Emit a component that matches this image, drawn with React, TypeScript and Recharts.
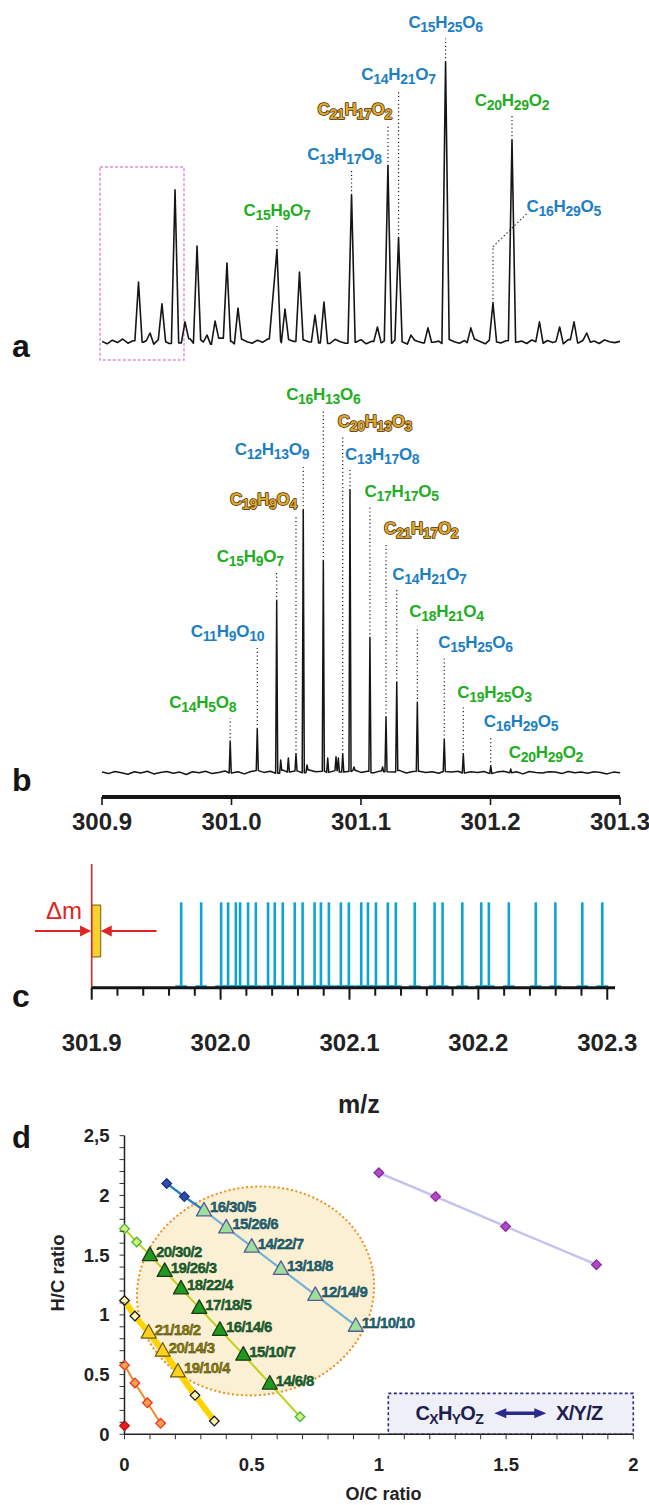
import React from 'react';
import {
  LineChart, Line, ComposedChart, Bar, ScatterChart, Scatter,
  XAxis, YAxis, ReferenceLine, ReferenceArea,
} from 'recharts';

const FONT = '"Liberation Sans", Arial, Helvetica, sans-serif';
const INK = '#151515';

// formula colours: b = blue, g = green, o = gold with dark outline
const KIND: Record<string, { fill: string; stroke?: string }> = {
  b: { fill: '#1d7fc2' },
  g: { fill: '#22ad22' },
  o: { fill: '#e3a72b', stroke: '#3a2800' },
};

// ---------- a: low resolution trace ----------
const aStart = 300.9;
const aStep = 0.004;
const aNoise = [
  1.2, 0.4, 1.6, 0.8, 2.0, 0.6, 1.4, 2.2, 0.9, 1.5, 0.3, 1.8, 1.1, 0.5, 1.9, 0.7, 1.3, 2.1, 0.6, 1.7,
  1.0, 0.2, 1.5, 2.3, 0.8, 1.2, 0.4, 1.9, 1.1, 0.6, 1.6, 0.9, 2.0, 0.5, 1.4, 0.8, 1.8, 1.2, 0.3, 1.7,
  1.0, 2.2, 0.7, 1.3, 0.5, 1.9, 1.1, 0.6, 1.5, 0.9, 1.8, 0.4, 1.2, 2.0, 0.8, 1.4, 0.6, 1.7, 1.0, 0.3,
  1.6, 1.2, 0.7, 2.1, 0.9, 1.3, 0.5, 1.8, 1.1, 0.6, 1.5, 0.8, 1.9, 1.2, 0.4, 1.6, 1.0, 0.7, 1.4, 2.0,
  0.9, 1.3, 0.5, 1.7, 1.1, 0.6, 1.5, 0.8, 1.2, 0.4, 1.8, 1.0, 0.7, 1.6, 0.9, 1.3, 0.5, 1.7, 1.1, 0.8, 1.2,
];
const aPeakMz = [
  300.9282, 300.9371, 300.9463, 300.9564, 300.9641, 300.9734, 300.9811, 300.9873, 300.9965, 301.0050,
  301.0320, 301.0351, 301.0413, 301.0525, 301.0645, 301.0714, 301.0927, 301.1127, 301.1208, 301.1290,
  301.1386, 301.1517, 301.1653, 301.1848, 301.2019, 301.2166, 301.2378, 301.2534, 301.2645, 301.2743,
];
const aPeakInt = [
  21, 4, 13.7, 51.7, 7.7, 33, 3.3, 8, 27.3, 12.3,
  16, 31.7, 12, 24.3, 10, 14.3, 50, 6, 59.7, 35.7,
  3.3, 5.7, 94.3, 5.7, 14, 68.3, 7.7, 6, 7.7, 4,
];
const aLabelFormula = ['C15H9O7', 'C13H17O8', 'C21H17O2', 'C14H21O7', 'C15H25O6', 'C20H29O2'];
const aLabelKind = ['g', 'b', 'o', 'b', 'b', 'g'];
const aLabelPeak = [11, 16, 18, 19, 22, 25];
const aLabelLevel = [39.6, 58.3, 73.3, 85, 102.2, 76.4];
const aLabelAnchor = ['middle', 'middle', 'end', 'middle', 'middle', 'middle'];
const aLabelDx = [0, -7, 4, 0, 0, 0];
// C16H29O5 is reached by a bent leader
const aBentFormula = 'C16H29O5';
const aBentPeak = 24;
const aBentKnee = 32.8;
const aBentTip = [301.2286, 44];
// pink dashed window
const aWindow = [300.8985, 300.9633, -5, 59.3];

// ---------- b: high resolution spectrum ----------
const bStart = 300.9;
const bStep = 0.005;
const bNoise = [
  0.3, -0.2, 0.5, 0.1, -0.4, 0.4, 0.0, 0.6, -0.3, 0.2, 0.5, -0.1, 0.3, -0.5, 0.4, 0.1, 0.6, -0.2, 0.2, 0.7,
  0.0, 0.4, -0.3, 0.5, 0.8, 0.2, 0.6, -0.1, 0.9, 0.3, 0.7, 0.1, 1.0, 0.4, 0.6, 0.2, 0.8, 0.3, 0.5, 0.9,
  0.2, 0.6, 0.1, 0.7, 0.4, 0.3, 0.8, 0.0, 0.5, 0.6, 0.2, 0.4, -0.1, 0.5, 0.3, 0.6, 0.0, 0.4, 0.2, 0.5,
  -0.2, 0.3, 0.6, 0.1, 0.4, -0.3, 0.5, 0.2, 0.0, 0.4, 0.3, -0.2, 0.5, 0.1, 0.3, -0.1, 0.4, 0.2, -0.3, 0.3, 0.1,
];
const bPeakMz = [
  300.9990, 301.0199, 301.0349, 301.0380, 301.0439, 301.0498, 301.0554, 301.0583, 301.0709, 301.0743,
  301.0807, 301.0825, 301.0859, 301.0915, 301.0946, 301.1069, 301.1167, 301.1193, 301.1276, 301.1435,
  301.1643, 301.1790, 301.2002, 301.2156,
];
const bPeakInt = [
  10.4, 14.7, 57.4, 4.3, 5.0, 6.3, 87.7, 2.7, 70.7, 5.0,
  5.4, 5.0, 6.3, 94.3, 2.0, 45.0, 2.0, 18.6, 30.2, 23.4,
  11.2, 6.3, 2.3, 1.2,
];
const bLabelFormula = [
  'C14H5O8', 'C11H9O10', 'C15H9O7', 'C19H9O4', 'C12H13O9', 'C16H13O6', 'C20H13O3', 'C13H17O8',
  'C17H17O5', 'C21H17O2', 'C14H21O7', 'C18H21O4', 'C15H25O6', 'C19H25O3', 'C16H29O5', 'C20H29O2',
];
const bLabelKind = ['g', 'b', 'g', 'o', 'b', 'g', 'o', 'b', 'g', 'o', 'b', 'g', 'b', 'g', 'b', 'g'];
const bLabelPeak = [0, 1, 2, 5, 6, 8, 12, 13, 15, 17, 18, 19, 20, 21, 22, 23];
const bLabelLevel = [18.2, 42.1, 67.1, 86, 102.7, 121, 112.1, 101, 88.8, 76.3, 61, 48.8, 38.2, 21.8, 11.9, 1.7];
const bLabelAnchor = [
  'end', 'end', 'end', 'end', 'end', 'middle', 'start', 'start',
  'start', 'start', 'start', 'start', 'start', 'start', 'start', 'start',
];
const bLabelDx = [6, 7, 7, 1, 6, 0, -5, -5, -5.5, -2, -4.5, -8, -6, -6, -7, -2];
const bTicks = [300.9, 301.0, 301.1, 301.2, 301.3];

// ---------- c: assigned formula list ----------
const cStickMz = [
  301.9693, 301.9848, 302.0003, 302.0057, 302.0117, 302.0150, 302.0212, 302.0272, 302.0367, 302.0419,
  302.0481, 302.0574, 302.0635, 302.0728, 302.0777, 302.0839, 302.0932, 302.0994, 302.1090, 302.1142,
  302.1204, 302.1296, 302.1358, 302.1505, 302.1659, 302.1721, 302.1874, 302.2021, 302.2080, 302.2235,
  302.2444, 302.2596, 302.2805, 302.2960,
];
const cStickInt = [
  1, 1, 1, 1, 1, 1, 1, 1, 1, 1, 1, 1, 1, 1, 1, 1, 1,
  1, 1, 1, 1, 1, 1, 1, 1, 1, 1, 1, 1, 1, 1, 1, 1, 1,
];
const cTicks = [
  301.9, 301.92, 301.94, 301.96, 301.98, 302.0, 302.02, 302.04, 302.06, 302.08, 302.1,
  302.12, 302.14, 302.16, 302.18, 302.2, 302.22, 302.24, 302.26, 302.28, 302.3,
];
const cMajor = [301.9, 302.0, 302.1, 302.2, 302.3];
const cMajorText = ['301.9', '302.0', '302.1', '302.2', '302.3'];
const dmWindow = [301.9, 301.907, 0.36, 0.968];
const dmArrowLeft = [301.856, 301.8995];
const dmArrowRight = [301.9503, 301.907];
const dmArrowLevel = 0.664;
const dmLineTop = 1.449;

// ---------- d: van Krevelen ----------
const blueOC = [0.166, 0.235, 0.3125, 0.40, 0.50, 0.615, 0.75, 0.909];
const blueHC = [2.10, 1.99, 1.875, 1.733, 1.571, 1.385, 1.167, 0.909];
const blueTag = ['', '', '16/30/5', '15/26/6', '14/22/7', '13/18/8', '12/14/9', '11/10/10'];
const greenOC = [0, 0.048, 0.10, 0.158, 0.222, 0.294, 0.375, 0.467, 0.571, 0.69];
const greenHC = [1.72, 1.61, 1.50, 1.368, 1.222, 1.059, 0.875, 0.667, 0.425, 0.147];
const greenTag = ['', '', '20/30/2', '19/26/3', '18/22/4', '17/18/5', '16/14/6', '15/10/7', '14/6/8', ''];
const yellowOC = [0, 0.041, 0.095, 0.15, 0.21, 0.277, 0.353];
const yellowHC = [1.12, 0.99, 0.852, 0.70, 0.526, 0.326, 0.111];
const yellowTag = ['', '', '21/18/2', '20/14/3', '19/10/4', '', ''];
const orangeOC = [0, 0.041, 0.09, 0.142];
const orangeHC = [0.579, 0.43, 0.264, 0.092];
const redOC = [0];
const redHC = [0.072];
const purpleOC = [1.0, 1.223, 1.498, 1.855];
const purpleHC = [2.19, 1.99, 1.74, 1.42];
const zoneOC = [0.515];
const zoneHC = [1.2];
const keyBox = [1.037, 2, 0, 0.343];
const dTicksX = [0, 0.1, 0.2, 0.3, 0.4, 0.5, 0.6, 0.7, 0.8, 0.9, 1, 1.1, 1.2, 1.3, 1.4, 1.5, 1.6, 1.7, 1.8, 1.9, 2];
const dTicksY = [
  0, 0.1, 0.2, 0.3, 0.4, 0.5, 0.6, 0.7, 0.8, 0.9, 1, 1.1, 1.2,
  1.3, 1.4, 1.5, 1.6, 1.7, 1.8, 1.9, 2, 2.1, 2.2, 2.3, 2.4, 2.5,
];
const dMajorX = [0, 0.5, 1, 1.5, 2];
const dMajorXText = ['0', '0.5', '1', '1.5', '2'];
const dMajorY = [0, 0.5, 1, 1.5, 2, 2.5];
const dMajorYText = ['0', '0.5', '1', '1.5', '2', '2,5'];

// ---------- helpers ----------
function buildTrace(noise: number[], start: number, step: number, mz: number[], val: number[], hw: number) {
  const near = (x: number, skip: number) => mz.some((m, i) => i !== skip && Math.abs(x - m) < hw);
  const baseAt = (x: number) => noise[Math.max(0, Math.min(noise.length - 1, Math.round((x - start) / step)))];
  const pts: { mz: number; v: number }[] = [];
  noise.forEach((v, i) => {
    const x = start + i * step;
    if (!near(x, -1)) pts.push({ mz: x, v });
  });
  mz.forEach((m, i) => {
    pts.push({ mz: m, v: val[i] });
    if (!near(m - hw, i)) pts.push({ mz: m - hw, v: baseAt(m - hw) });
    if (!near(m + hw, i)) pts.push({ mz: m + hw, v: baseAt(m + hw) });
  });
  return pts.sort((p, q) => p.mz - q.mz);
}

const aTrace = buildTrace(aNoise, aStart, aStep, aPeakMz, aPeakInt, 0.0028);
const bTrace = buildTrace(bNoise, bStart, bStep, bPeakMz, bPeakInt, 0.0008);
const cData = cStickMz.map((mz, i) => ({ mz, v: cStickInt[i] }));

const chain = (oc: number[], hc: number[], tag?: string[]) =>
  oc.map((x, i) => ({ x, y: hc[i], tag: tag ? tag[i] : '' }));

const blue = chain(blueOC, blueHC, blueTag);
const green = chain(greenOC, greenHC, greenTag);
const yellow = chain(yellowOC, yellowHC, yellowTag);
const orange = chain(orangeOC, orangeHC);
const red = chain(redOC, redHC);
const purple = chain(purpleOC, purpleHC);
const zone = chain(zoneOC, zoneHC);

function Formula({ x, y, text, kind, anchor = 'middle', size = 17 }: any) {
  const k = KIND[kind];
  const parts = Array.from((text as string).matchAll(/([A-Z])(\d*)/g), (m) => [m[1], m[2]]);
  const sub = 14;
  const shift = 4;
  let low = false;
  const spans: React.ReactNode[] = [];
  parts.forEach(([el, n], i) => {
    spans.push(<tspan key={'e' + i} dy={low ? -shift : 0}>{el}</tspan>);
    low = false;
    if (n) {
      spans.push(<tspan key={'n' + i} fontSize={sub} dy={shift}>{n}</tspan>);
      low = true;
    }
  });
  return (
    <text
      x={x} y={y} textAnchor={anchor} fontFamily={FONT} fontWeight="bold" fontSize={size}
      letterSpacing={-0.3} fill={k.fill} stroke={k.stroke ?? 'none'} strokeWidth={k.stroke ? 1.4 : 0}
      paintOrder="stroke" strokeLinejoin="round"
    >
      {spans}
    </text>
  );
}

const dotted = { stroke: '#222', strokeWidth: 1.2, strokeDasharray: '1.2 2.6' };

function CTick({ x, y, payload }: any) {
  const k = cMajor.findIndex((v) => Math.abs(v - payload.value) < 1e-6);
  return (
    <g>
      <line x1={x} x2={x} y1={y} y2={y + (k >= 0 ? 12 : 8)} stroke={INK} strokeWidth={2} />
      {k >= 0 && (
        <text x={x} y={y + 63} textAnchor="middle" fontFamily={FONT} fontWeight="bold" fontSize={24} fill="#222">
          {cMajorText[k]}
        </text>
      )}
    </g>
  );
}

function DTickX({ x, y, payload }: any) {
  const k = dMajorX.findIndex((v) => Math.abs(v - payload.value) < 1e-6);
  return (
    <g>
      <line x1={x} x2={x} y1={y} y2={y + 5} stroke="#333" strokeWidth={1} />
      {k >= 0 && (
        <text x={x} y={y + 37} textAnchor="middle" fontFamily={FONT} fontWeight="bold" fontSize={18.5} fill="#222">
          {dMajorXText[k]}
        </text>
      )}
    </g>
  );
}

function DTickY({ x, y, payload }: any) {
  const k = dMajorY.findIndex((v) => Math.abs(v - payload.value) < 1e-6);
  return (
    <g>
      <line x1={x} x2={x - 5} y1={y} y2={y} stroke="#333" strokeWidth={1} />
      {k >= 0 && (
        <text x={x - 15} y={y + 6.5} textAnchor="end" fontFamily={FONT} fontWeight="bold" fontSize={18.5} fill="#222">
          {dMajorYText[k]}
        </text>
      )}
    </g>
  );
}

function Arrow(props: any) {
  const { x1, y1, x2, y2 } = props;
  const dir = Math.sign(x2 - x1);
  return (
    <g>
      <line x1={x1} y1={y1} x2={x2 - dir * 9} y2={y2} stroke="#e02424" strokeWidth={1.8} />
      <polygon points={`${x2},${y2} ${x2 - dir * 11},${y2 - 5.5} ${x2 - dir * 11},${y2 + 5.5}`} fill="#e02424" />
    </g>
  );
}

const diamond = (fill: string, stroke: string) => (p: any) => (
  <polygon
    points={`${p.cx},${p.cy - 4.8} ${p.cx + 4.8},${p.cy} ${p.cx},${p.cy + 4.8} ${p.cx - 4.8},${p.cy}`}
    fill={fill} stroke={stroke} strokeWidth={1.3}
  />
);

const triangle = (fill: string, stroke: string, ink: string) => (p: any) => (
  <g>
    <polygon
      points={`${p.cx},${p.cy - 8} ${p.cx - 7.5},${p.cy + 5.5} ${p.cx + 7.5},${p.cy + 5.5}`}
      fill={fill} stroke={stroke} strokeWidth={1.3} strokeLinejoin="round"
    />
    <text
      x={p.cx + 6} y={p.cy + 2} fontFamily={FONT} fontWeight="bold" fontSize={15} letterSpacing={-0.6}
      fill={ink} stroke="#1a2a1a" strokeWidth={0.35}
    >
      {p.payload.tag}
    </text>
  </g>
);

const none = () => <g />;

const ZoneShape = (p: any) => (
  <ellipse
    cx={p.cx} cy={p.cy} rx={119} ry={104} transform={`rotate(-10 ${p.cx} ${p.cy})`}
    fill="#fbefd4" stroke="#f0901c" strokeWidth={2.2} strokeDasharray="0.1 4.4" strokeLinecap="round"
  />
);

function KeyContent({ viewBox }: any) {
  const { x, y } = viewBox;
  const ty = y + 27;
  const navy = '#1e1e4e';
  return (
    <g fontFamily={FONT} fontWeight="bold" fill={navy}>
      <text x={x + 61} y={ty} textAnchor="middle" fontSize={20} letterSpacing={-0.7}>
        <tspan>C</tspan><tspan fontSize={14} dy={4}>X</tspan>
        <tspan dy={-4}>H</tspan><tspan fontSize={14} dy={4}>Y</tspan>
        <tspan dy={-4}>O</tspan><tspan fontSize={14} dy={4}>Z</tspan>
      </text>
      <line x1={x + 116} x2={x + 148} y1={y + 20} y2={y + 20} stroke="#2a2a8c" strokeWidth={3.5} />
      <polygon points={`${x + 106},${y + 20} ${x + 118},${y + 15} ${x + 118},${y + 25}`} fill="#2a2a8c" />
      <polygon points={`${x + 158},${y + 20} ${x + 146},${y + 15} ${x + 146},${y + 25}`} fill="#2a2a8c" />
      <text x={x + 191} y={ty} textAnchor="middle" fontSize={20} letterSpacing={-0.7}>X/Y/Z</text>
    </g>
  );
}

export default function App() {
  return (
    <div style={{ position: 'absolute', left: 0, top: 0, width: 649, height: 1505, background: '#fff', fontFamily: FONT }}>
      {/* a */}
      <div style={{ position: 'absolute', left: 0, top: 0 }}>
        <LineChart width={649} height={365} data={aTrace} margin={{ top: 45, right: 29, bottom: 20, left: 102 }}>
          <XAxis type="number" dataKey="mz" domain={[300.9, 301.3]} hide allowDataOverflow />
          <YAxis type="number" domain={[0, 100]} hide allowDataOverflow />
          <ReferenceArea
            x1={aWindow[0]} x2={aWindow[1]} y1={aWindow[2]} y2={aWindow[3]} ifOverflow="visible"
            fill="none" stroke="#e48ddc" strokeWidth={1.5} strokeDasharray="3 2"
          />
          <Line type="linear" dataKey="v" stroke={INK} strokeWidth={1.6} dot={false} isAnimationActive={false} strokeLinejoin="round" />
          {aLabelFormula.map((f, i) => {
            const p = aLabelPeak[i];
            return (
              <ReferenceLine
                key={f} ifOverflow="visible" {...dotted}
                segment={[{ x: aPeakMz[p], y: aPeakInt[p] }, { x: aPeakMz[p], y: aLabelLevel[i] }]}
                label={(lp: any) => (
                  <Formula x={lp.viewBox.x + aLabelDx[i]} y={lp.viewBox.y - 10} text={f} kind={aLabelKind[i]} anchor={aLabelAnchor[i]} />
                )}
              />
            );
          })}
          <ReferenceLine
            ifOverflow="visible" {...dotted}
            segment={[{ x: aPeakMz[aBentPeak], y: aPeakInt[aBentPeak] }, { x: aPeakMz[aBentPeak], y: aBentKnee }]}
          />
          <ReferenceLine
            ifOverflow="visible" {...dotted}
            segment={[{ x: aPeakMz[aBentPeak], y: aBentKnee }, { x: aBentTip[0], y: aBentTip[1] }]}
            label={(lp: any) => (
              <Formula x={lp.viewBox.x + lp.viewBox.width - 1} y={lp.viewBox.y - 1.5} text={aBentFormula} kind="b" anchor="start" />
            )}
          />
        </LineChart>
      </div>

      {/* b */}
      <div style={{ position: 'absolute', left: 0, top: 370 }}>
        <LineChart width={649} height={470} data={bTrace} margin={{ top: 13, right: 29, bottom: 0, left: 102 }}>
          <XAxis
            type="number" dataKey="mz" domain={[300.9, 301.3]} ticks={bTicks} interval={0} allowDataOverflow
            tickFormatter={(v: number) => v.toFixed(1)} height={43} tickSize={8} tickMargin={8}
            axisLine={{ stroke: INK, strokeWidth: 4 }} tickLine={{ stroke: INK, strokeWidth: 1.6 }}
            tick={{ fontSize: 24, fontWeight: 700, fill: '#222', fontFamily: FONT }}
          />
          <YAxis type="number" domain={[-8, 130]} hide allowDataOverflow />
          <Line type="linear" dataKey="v" stroke={INK} strokeWidth={1.5} dot={false} isAnimationActive={false} strokeLinejoin="round" />
          {bLabelFormula.map((f, i) => {
            const p = bLabelPeak[i];
            return (
              <ReferenceLine
                key={f} ifOverflow="visible" {...dotted}
                segment={[{ x: bPeakMz[p], y: bPeakInt[p] }, { x: bPeakMz[p], y: bLabelLevel[i] }]}
                label={(lp: any) => (
                  <Formula x={lp.viewBox.x + bLabelDx[i]} y={lp.viewBox.y - 10} text={f} kind={bLabelKind[i]} anchor={bLabelAnchor[i]} />
                )}
              />
            );
          })}
        </LineChart>
      </div>

      {/* c */}
      <div style={{ position: 'absolute', left: 0, top: 855 }}>
        <ComposedChart width={649} height={270} data={cData} margin={{ top: 4.6, right: 34, bottom: 0, left: 91.7 }}>
          <XAxis
            type="number" dataKey="mz" domain={[301.9, 302.306]} ticks={cTicks} interval={0} allowDataOverflow
            height={137.3} tickSize={0} tickMargin={0} tickLine={false} tick={<CTick />}
            axisLine={{ stroke: INK, strokeWidth: 3 }}
            label={(lp: any) => (
              <text
                x={lp.viewBox.x + lp.viewBox.width / 2 + 5.6} y={lp.viewBox.y + 125.3} textAnchor="middle"
                fontFamily={FONT} fontWeight="bold" fontSize={25} fill="#222"
              >
                m/z
              </text>
            )}
          />
          <YAxis type="number" domain={[0, 1.5]} hide allowDataOverflow />
          <Bar
            dataKey="v" barSize={2.6} fill="#0ea5d3" isAnimationActive={false}
            shape={(p: any) => (
              <g>
                <rect x={p.x} y={p.y} width={p.width} height={p.height} fill="#0ea5d3" />
                <line x1={p.x - 4.5} x2={p.x + p.width + 4.5} y1={p.y + p.height - 1.5} y2={p.y + p.height - 1.5} stroke="#0ea5d3" strokeWidth={2} />
              </g>
            )}
          />
          <ReferenceLine
            ifOverflow="visible" stroke="#e02424" strokeWidth={1.6}
            segment={[{ x: dmWindow[0], y: 0 }, { x: dmWindow[0], y: dmLineTop }]}
          />
          <ReferenceArea
            x1={dmWindow[0]} x2={dmWindow[1]} y1={dmWindow[2]} y2={dmWindow[3]} ifOverflow="visible"
            fill="#f6d22e" fillOpacity={1} stroke="#7a5a10" strokeWidth={1}
          />
          <ReferenceLine
            ifOverflow="visible" shape={Arrow}
            segment={[{ x: dmArrowLeft[0], y: dmArrowLevel }, { x: dmArrowLeft[1], y: dmArrowLevel }]}
            label={(lp: any) => (
              <text x={lp.viewBox.x + 29} y={lp.viewBox.y - 12} textAnchor="middle" fontFamily={FONT} fontSize={24} fill="#e02424">
                Δm
              </text>
            )}
          />
          <ReferenceLine
            ifOverflow="visible" shape={Arrow}
            segment={[{ x: dmArrowRight[0], y: dmArrowLevel }, { x: dmArrowRight[1], y: dmArrowLevel }]}
          />
        </ComposedChart>
      </div>

      {/* d */}
      <div style={{ position: 'absolute', left: 0, top: 1120 }}>
        <ScatterChart width={649} height={385} margin={{ top: 15.7, right: 15.7, bottom: 0, left: 40 }}>
          <XAxis
            type="number" dataKey="x" domain={[0, 2]} ticks={dTicksX} interval={0} height={70.7}
            tickSize={0} tickMargin={0} tickLine={false} tick={<DTickX />} axisLine={{ stroke: '#222', strokeWidth: 1.5 }}
            label={(lp: any) => (
              <text
                x={lp.viewBox.x + lp.viewBox.width / 2 + 4.6} y={lp.viewBox.y + 65.5} textAnchor="middle"
                fontFamily={FONT} fontWeight="bold" fontSize={18} fill="#222"
              >
                O/C ratio
              </text>
            )}
          />
          <YAxis
            type="number" dataKey="y" domain={[0, 2.5]} ticks={dTicksY} interval={0} width={84.5}
            tickSize={0} tickMargin={0} tickLine={false} tick={<DTickY />} axisLine={{ stroke: '#222', strokeWidth: 1.5 }}
            label={(lp: any) => {
              const cx = lp.viewBox.x + 17.3;
              const cy = lp.viewBox.y + lp.viewBox.height / 2 - 12;
              return (
                <text
                  x={cx} y={cy} transform={`rotate(-90 ${cx} ${cy})`} textAnchor="middle" dominantBaseline="central"
                  fontFamily={FONT} fontWeight="bold" fontSize={18.5} fill="#222"
                >
                  H/C ratio
                </text>
              );
            }}
          />
          <Scatter data={zone} shape={ZoneShape} isAnimationActive={false} />
          <Scatter data={purple} line={{ stroke: '#c3c3f0', strokeWidth: 2.5 }} shape={none} isAnimationActive={false} />
          <Scatter data={orange} line={{ stroke: '#f28a22', strokeWidth: 2 }} shape={none} isAnimationActive={false} />
          <Scatter data={yellow} line={{ stroke: '#ffd400', strokeWidth: 6 }} shape={none} isAnimationActive={false} />
          <Scatter data={green} line={{ stroke: '#bcd21e', strokeWidth: 2 }} shape={none} isAnimationActive={false} />
          <Scatter data={blue} line={{ stroke: '#6fb4d4', strokeWidth: 2.2 }} shape={none} isAnimationActive={false} />
          <Scatter data={blue.slice(0, 3)} line={{ stroke: '#1f80c4', strokeWidth: 2.2 }} shape={none} isAnimationActive={false} />
          <Scatter data={purple} shape={diamond('#b548c8', '#8a2aa0')} isAnimationActive={false} />
          <Scatter data={orange} shape={diamond('#f8a050', '#e83a1e')} isAnimationActive={false} />
          <Scatter data={red} shape={diamond('#e81e1e', '#c01010')} isAnimationActive={false} />
          <Scatter data={yellow.filter((p) => !p.tag)} shape={diamond('#fff6b0', '#1a1a1a')} isAnimationActive={false} />
          <Scatter data={green.filter((p) => !p.tag)} shape={diamond('#d8f080', '#3cb83c')} isAnimationActive={false} />
          <Scatter data={blue.filter((p) => !p.tag)} shape={diamond('#2b4fae', '#1c2f80')} isAnimationActive={false} />
          <Scatter data={yellow.filter((p) => p.tag)} shape={triangle('#ffd21f', '#6a5a10', '#938000')} isAnimationActive={false} />
          <Scatter data={green.filter((p) => p.tag)} shape={triangle('#1f9a1f', '#1a3a10', '#0d6a2a')} isAnimationActive={false} />
          <Scatter data={blue.filter((p) => p.tag)} shape={triangle('#9be09b', '#5a5a9a', '#156c88')} isAnimationActive={false} />
          <ReferenceArea
            x1={keyBox[0]} x2={keyBox[1]} y1={keyBox[2]} y2={keyBox[3]} ifOverflow="visible"
            fill="#efeff8" fillOpacity={1} stroke="#2a2a8a" strokeWidth={1.6} strokeDasharray="3 2.5"
            label={(lp: any) => <KeyContent viewBox={lp.viewBox} />}
          />
        </ScatterChart>
      </div>

      {/* panel letters */}
      <svg width={649} height={1505} style={{ position: 'absolute', left: 0, top: 0, pointerEvents: 'none' }}>
        <g fontFamily={FONT} fontWeight="bold" fill={INK}>
          <text x={12} y={357} fontSize={32}>a</text>
          <text x={12} y={791} fontSize={32}>b</text>
          <text x={12} y={1007} fontSize={32}>c</text>
          <text x={12} y={1148} fontSize={31}>d</text>
        </g>
      </svg>
    </div>
  );
}
